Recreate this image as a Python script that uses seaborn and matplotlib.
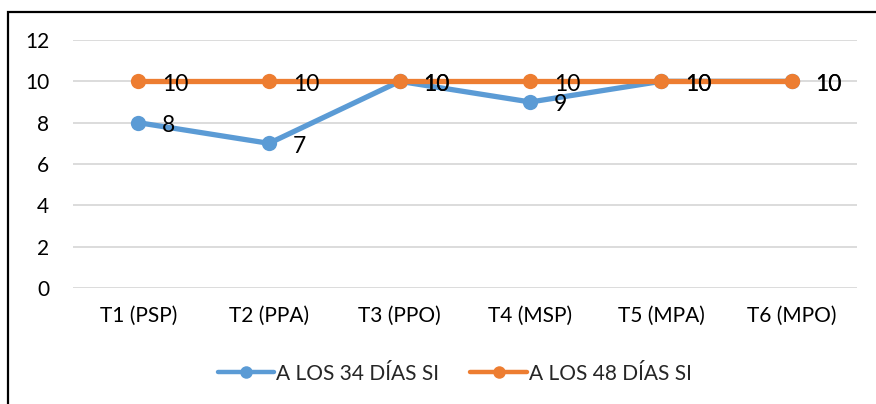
import pandas as pd
import matplotlib
matplotlib.use("Agg")
import matplotlib.pyplot as plt
import seaborn as sns
from matplotlib.patches import Rectangle

categories = ["T1 (PSP)", "T2 (PPA)", "T3 (PPO)", "T4 (MSP)", "T5 (MPA)", "T6 (MPO)"]
serie_34 = [8, 7, 10, 9, 10, 10]
serie_48 = [10, 10, 10, 10, 10, 10]
series_names = ["A LOS 34 DÍAS SI", "A LOS 48 DÍAS SI"]
colors = ["#5b9bd5", "#ed7d31"]

df = pd.DataFrame({
    "cat": categories * 2,
    "valor": serie_34 + serie_48,
    "serie": [series_names[0]] * 6 + [series_names[1]] * 6,
})

sns.set_style("white")
plt.rcParams["font.family"] = ["Lato", "DejaVu Sans"]

fig = plt.figure(figsize=(8.76, 4.04), dpi=100)
ax = fig.add_axes([73 / 876, 1 - 288 / 404, 784 / 876, 248 / 404])

sns.lineplot(data=df, x="cat", y="valor", hue="serie", palette=colors,
             marker="o", markersize=11, linewidth=3.8, markeredgewidth=0,
             sort=False, ax=ax)

for name, vals in zip(series_names, [serie_34, serie_48]):
    for i, v in enumerate(vals):
        ax.annotate(str(v), (i, v), xytext=(17, -2), textcoords="offset points",
                    ha="left", va="center", fontsize=16.5, color="black")

ax.set_ylim(0, 12)
ax.set_yticks(range(0, 13, 2))
ax.set_xlim(-0.5, 5.5)
ax.yaxis.grid(True, color="#d9d9d9", linewidth=1.3)
ax.set_axisbelow(True)
for s in ax.spines.values():
    s.set_visible(False)
ax.set_xlabel("")
ax.set_ylabel("")
ax.tick_params(axis="both", length=0, labelsize=15, colors="black")
ax.tick_params(axis="x", pad=13)
ax.tick_params(axis="y", pad=17)

handles, labels = ax.get_legend_handles_labels()
for h in handles:
    h.set_markersize(9)
    h.set_linewidth(3.2)
ax.legend(handles, labels, loc="center", bbox_to_anchor=(0.487, -0.345), ncol=2,
          frameon=False, fontsize=15, handlelength=2.7, handletextpad=0.1,
          columnspacing=1.5)

fig.patches.append(Rectangle((8 / 876, -0.1), 1.2, 1 - 12 / 404 + 0.1,
                             transform=fig.transFigure, fill=False,
                             edgecolor="black", linewidth=1.6))

fig.savefig("out.png", dpi=100)
